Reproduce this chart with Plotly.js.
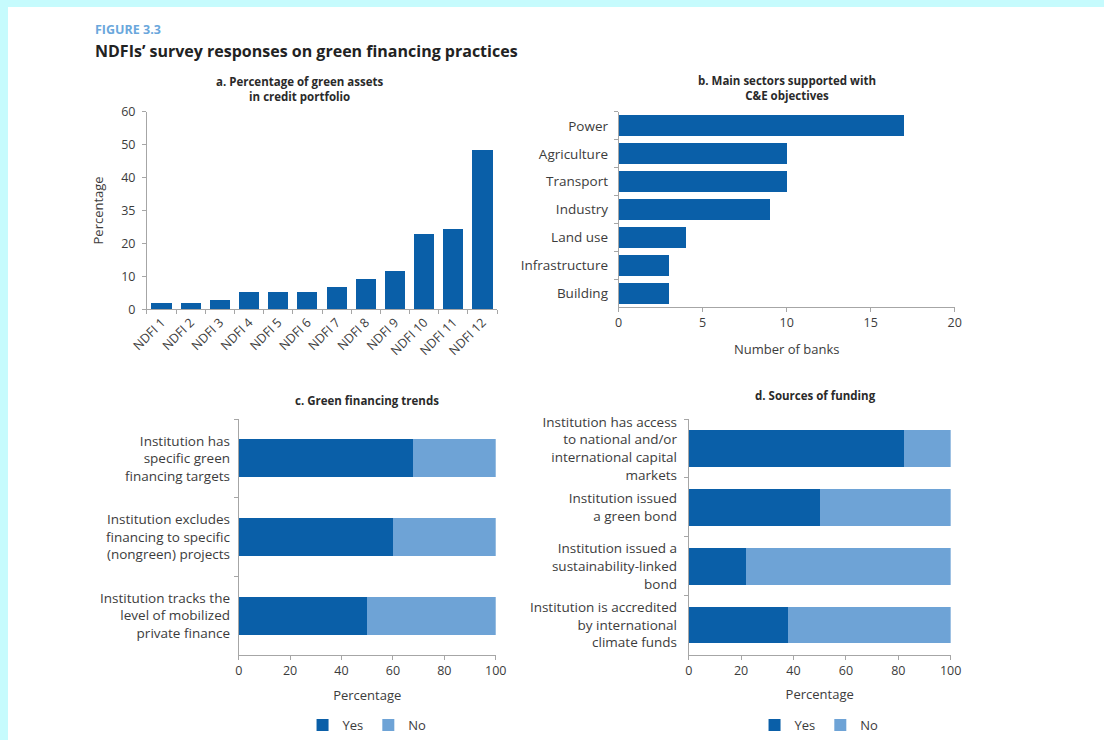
<!DOCTYPE html>
<html>
<head>
<meta charset="utf-8">
<script src="https://cdn.plot.ly/plotly-3.0.1.min.js"></script>
<style>
  html, body { margin: 0; padding: 0; background: #c6fbfd; width: 1104px; height: 740px; overflow: hidden; }
  #chart { position: absolute; left: 8px; top: 7px; width: 1096px; height: 733px; background: #ffffff; }
</style>
</head>
<body>
<div id="chart"></div>
<script>
// ---- Panel a data ----
const ndfiLabels = ['NDFI 1','NDFI 2','NDFI 3','NDFI 4','NDFI 5','NDFI 6','NDFI 7','NDFI 8','NDFI 9','NDFI 10','NDFI 11','NDFI 12'];
const greenAssets = [1.9, 1.9, 2.7, 5.2, 5.2, 5.2, 6.8, 9.3, 11.5, 22.7, 24.3, 48.4];
const pctTickVals = [0, 10, 20, 30, 40, 50, 60];
const pctTickText = ['0', '10', '20', '35', '40', '50', '60'];

// ---- Panel b data ----
const sectors = ['Power','Agriculture','Transport','Industry','Land use','Infrastructure','Building'];
const banks = [17, 10, 10, 9, 4, 3, 3];

// ---- Panel c data ----
const trendLabels = [
  'Institution has<br>specific green<br>financing targets',
  'Institution excludes<br>financing to specific<br>(nongreen) projects',
  'Institution tracks the<br>level of mobilized<br>private finance'
];
const trendYes = [68, 60, 50];
const trendNo = [32, 40, 50];

// ---- Panel d data ----
const fundingLabels = [
  'Institution has access<br>to national and/or<br>international capital<br>markets',
  'Institution issued<br>a green bond',
  'Institution issued a<br>sustainability-linked<br>bond',
  'Institution is accredited<br>by international<br>climate funds'
];
const fundYes = [82, 50, 22, 38];
const fundNo = [18, 50, 78, 62];

const DARK = '#0a5fa8';
const LIGHT = '#6ea3d6';
const TXT = '#3c3c3c';
const AXC = '#a6a6a6';
const FONT = 'Open Sans, Noto Sans, sans-serif';

const traces = [
  { type: 'bar', x: ndfiLabels, y: greenAssets, xaxis: 'x', yaxis: 'y', marker: { color: DARK }, width: 0.69, showlegend: false },
  { type: 'bar', orientation: 'h', y: sectors, x: banks, xaxis: 'x2', yaxis: 'y2', marker: { color: DARK }, width: 0.75, showlegend: false },
  { type: 'bar', orientation: 'h', name: 'Yes', y: trendLabels, x: trendYes, xaxis: 'x3', yaxis: 'y3', marker: { color: DARK }, width: 0.48, legend: 'legend' },
  { type: 'bar', orientation: 'h', name: 'No', y: trendLabels, x: trendNo, xaxis: 'x3', yaxis: 'y3', marker: { color: LIGHT }, width: 0.48, legend: 'legend' },
  { type: 'bar', orientation: 'h', name: 'Yes', y: fundingLabels, x: fundYes, xaxis: 'x4', yaxis: 'y4', marker: { color: DARK }, width: 0.62, legend: 'legend2' },
  { type: 'bar', orientation: 'h', name: 'No', y: fundingLabels, x: fundNo, xaxis: 'x4', yaxis: 'y4', marker: { color: LIGHT }, width: 0.62, legend: 'legend2' }
];

const baseAxis = {
  showgrid: false, zeroline: false, showline: true, linecolor: AXC, linewidth: 1,
  ticks: 'outside', ticklen: 4, tickcolor: AXC, tickfont: { family: FONT, size: 12.5, color: TXT },
  fixedrange: true
};
function ax(extra) { return Object.assign({}, baseAxis, extra); }
const titleFont = { family: FONT, size: 13, color: TXT };
const catFont = { family: FONT, size: 13.5, color: TXT };

const legendBase = { orientation: 'h', xanchor: 'center', y: 0.016, yanchor: 'middle', traceorder: 'normal',
  font: { family: FONT, size: 13, color: TXT }, itemwidth: 30, bgcolor: 'rgba(0,0,0,0)' };

const layout = {
  width: 1096, height: 733,
  margin: { l: 0, r: 0, t: 0, b: 0 },
  paper_bgcolor: '#ffffff', plot_bgcolor: '#ffffff',
  font: { family: FONT, color: TXT },
  barmode: 'stack',
  showlegend: true,
  // panel a
  xaxis: ax({ domain: [0.1268, 0.4462], anchor: 'y', type: 'category', tickangle: -45, tickson: 'boundaries', range: [-0.5, 11.5], tickfont: { family: FONT, size: 12.5, color: TXT } }),
  yaxis: ax({ domain: [0.5859, 0.8568], anchor: 'x', range: [0, 60], tickvals: pctTickVals, ticktext: pctTickText, ticklabelstandoff: 4,
    title: { text: 'Percentage', font: titleFont, standoff: 14 } }),
  // panel b
  xaxis2: ax({ domain: [0.5572, 0.8638], anchor: 'y2', range: [0, 20], tickvals: [0, 5, 10, 15, 20],
    title: { text: 'Number of banks', font: titleFont, standoff: 14 } }),
  yaxis2: ax({ domain: [0.5884, 0.8563], anchor: 'x2', type: 'category', tickson: 'boundaries', range: [6.5, -0.5], ticklabelstandoff: 7, tickfont: catFont }),
  // panel c
  xaxis3: ax({ domain: [0.2105, 0.4450], anchor: 'y3', range: [0, 100], tickvals: [0, 20, 40, 60, 80, 100],
    title: { text: 'Percentage', font: titleFont, standoff: 12 } }),
  yaxis3: ax({ domain: [0.1123, 0.4356], anchor: 'x3', type: 'category', tickson: 'boundaries', range: [2.5, -0.5], ticklabelstandoff: 5, tickfont: catFont }),
  // panel d
  xaxis4: ax({ domain: [0.6211, 0.8601], anchor: 'y4', range: [0, 100], tickvals: [0, 20, 40, 60, 80, 100],
    title: { text: 'Percentage', font: titleFont, standoff: 12 } }),
  yaxis4: ax({ domain: [0.1128, 0.4356], anchor: 'x4', type: 'category', tickson: 'boundaries', range: [3.5, -0.5], ticklabelstandoff: 8, tickfont: catFont }),
  legend: Object.assign({}, legendBase, { x: 0.3276 }),
  legend2: Object.assign({}, legendBase, { x: 0.740 }),
  annotations: [
    { text: '<b>FIGURE 3.3</b>', xref: 'paper', yref: 'paper', x: 0.0776, y: 0.9686, xanchor: 'left', yanchor: 'middle', showarrow: false, font: { family: FONT, size: 12.5, color: '#6aa7dc' } },
    { text: '<b>NDFIs’ survey responses on green financing practices</b>', xref: 'paper', yref: 'paper', x: 0.0776, y: 0.940, xanchor: 'left', yanchor: 'middle', showarrow: false, font: { family: FONT, size: 16, color: '#222222' } },
    { text: '<b>a. Percentage of green assets<br>in credit portfolio</b>', xref: 'paper', yref: 'paper', x: 0.2664, y: 0.8874, xanchor: 'center', yanchor: 'middle', showarrow: false, font: { family: FONT, size: 11.5, color: '#2a2a2a' } },
    { text: '<b>b. Main sectors supported with<br>C&E objectives</b>', xref: 'paper', yref: 'paper', x: 0.7108, y: 0.8895, xanchor: 'center', yanchor: 'middle', showarrow: false, font: { family: FONT, size: 11.5, color: '#2a2a2a' } },
    { text: '<b>c. Green financing trends</b>', xref: 'paper', yref: 'paper', x: 0.3276, y: 0.4611, xanchor: 'center', yanchor: 'middle', showarrow: false, font: { family: FONT, size: 11.5, color: '#2a2a2a' } },
    { text: '<b>d. Sources of funding</b>', xref: 'paper', yref: 'paper', x: 0.7372, y: 0.468, xanchor: 'center', yanchor: 'middle', showarrow: false, font: { family: FONT, size: 11.5, color: '#2a2a2a' } }
  ]
};

Plotly.newPlot('chart', traces, layout, { displayModeBar: false, staticPlot: true });
</script>
</body>
</html>
